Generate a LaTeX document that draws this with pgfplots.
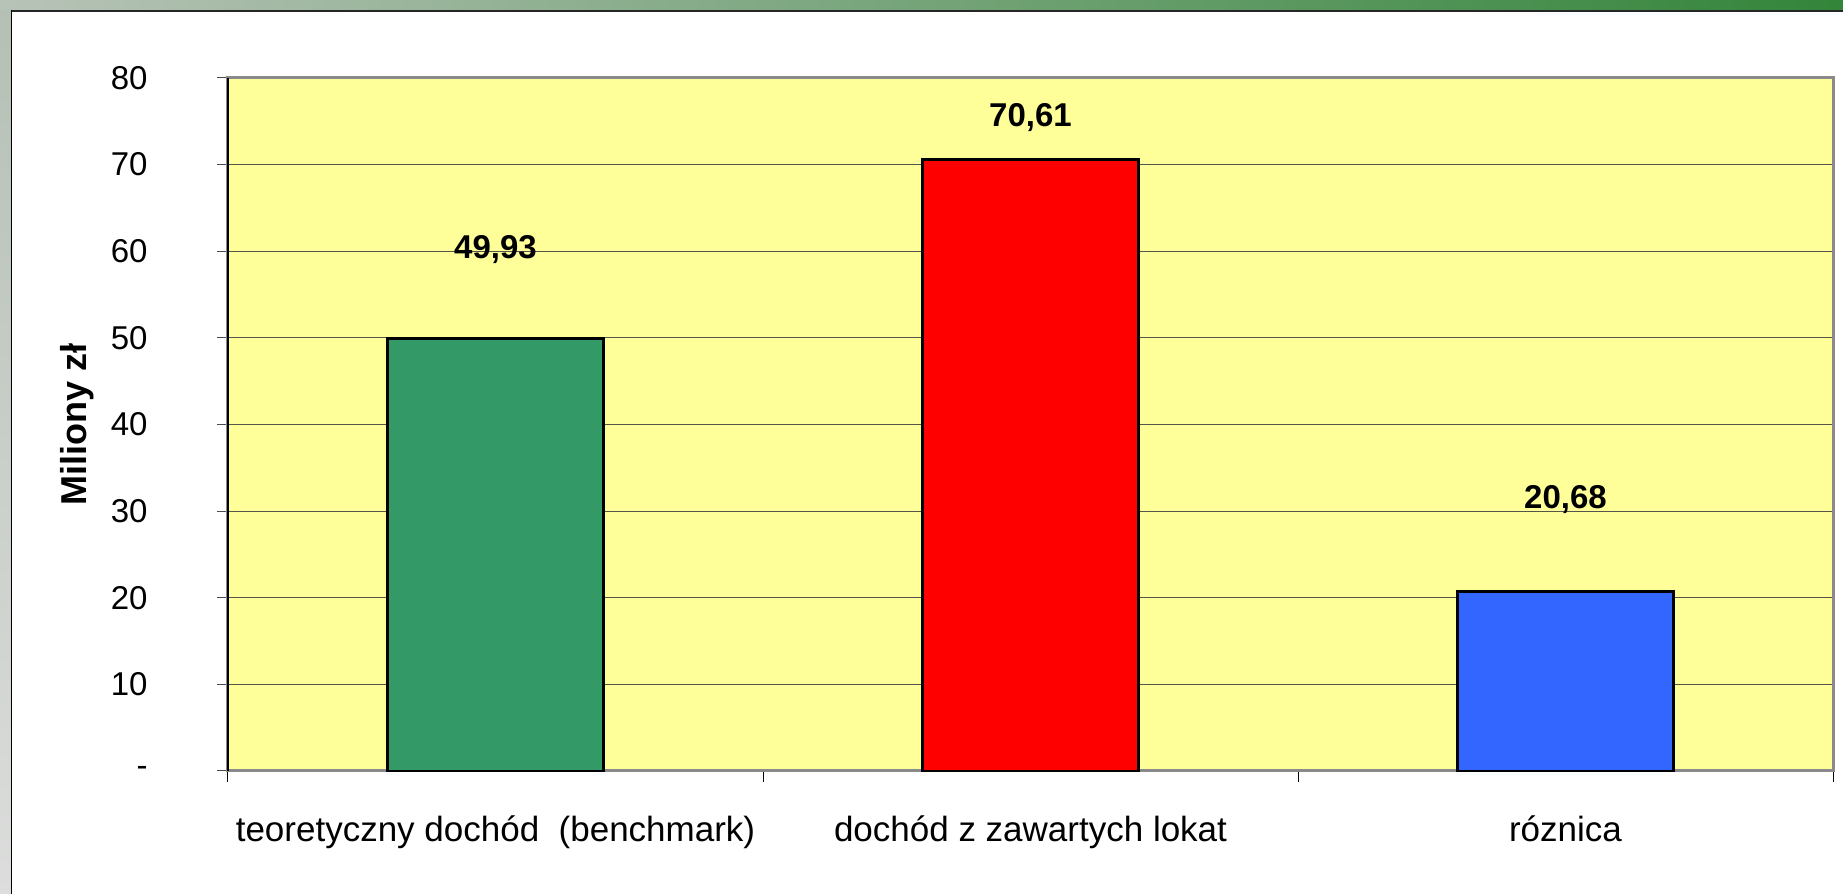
\documentclass[border=0pt]{standalone}
\usepackage{pgfplots}
\pgfplotsset{compat=1.18}
\usepackage{fontspec}
\setmainfont{Liberation Sans}
\definecolor{plotbg}{HTML}{FFFF99}
\definecolor{gridgray}{HTML}{55554A}
\definecolor{framegray}{HTML}{8A8A8A}
\definecolor{barGreen}{HTML}{339966}
\definecolor{barRed}{HTML}{FF0000}
\definecolor{barBlue}{HTML}{3366FF}
\definecolor{stripL}{HTML}{B8C3B8}
\definecolor{stripR}{HTML}{33853A}
\definecolor{sideTop}{HTML}{B4C0B4}
\definecolor{sideBot}{HTML}{DCDDDC}
\begin{document}
\begin{tikzpicture}
\useasboundingbox (0,0) rectangle (921.5pt,447pt);
\fill[white] (0,0) rectangle (921.5pt,447pt);
\shade[top color=sideTop, bottom color=sideBot] (0,0) rectangle (5.5pt,447pt);
\shade[left color=stripL, right color=stripR] (0,442pt) rectangle (921.5pt,447pt);
\fill[black!85] (5.5pt,441pt) rectangle (921.5pt,442pt);
\fill[black] (5.5pt,0) rectangle (6.2pt,442pt);
\begin{axis}[
  at={(114pt,61.5pt)}, anchor=south west,
  scale only axis, width=802.5pt, height=346.5pt,
  xmin=-0.5, xmax=2.5, ymin=0, ymax=80,
  axis background/.style={fill=plotbg},
  axis line style={draw=framegray, line width=1.5pt},
  tick align=outside,
  xtick pos=lower, ytick pos=left,
  major tick length=5.5pt,
  ytick={0,10,...,80},
  yticklabels={-,10,20,30,40,50,60,70,80},
  ytick style={draw=black!70, line width=0.5pt},
  yticklabel style={anchor=east, inner sep=0pt, xshift=-34.5pt, font=\fontsize{16.5}{19}\selectfont},
  ymajorgrids,
  grid style={line width=0.6pt, color=gridgray},
  xtick={-0.5,0.5,1.5,2.5},
  xticklabels={,,,},
  xtick style={draw=black, line width=0.5pt},
  extra x ticks={0,1,2},
  extra x tick labels={teoretyczny dochód\ \ (benchmark), dochód z zawartych lokat, róznica},
  extra x tick style={major tick length=0pt, grid=none},
  xticklabel style={anchor=base, inner sep=0pt, yshift=-35.5pt, font=\fontsize{17.5}{21}\selectfont},
  ylabel={Miliony zł},
  ylabel style={at={(axis description cs:-0.094,0.5)}, anchor=center, font=\bfseries\fontsize{18}{21}\selectfont},
  clip=false,
]
\addplot[ybar, bar width=108pt, bar shift=0pt, fill=barGreen, draw=black, line width=1.4pt] coordinates {(0,49.93)};
\addplot[ybar, bar width=108pt, bar shift=0pt, fill=barRed, draw=black, line width=1.4pt] coordinates {(1,70.61)};
\addplot[ybar, bar width=108pt, bar shift=0pt, fill=barBlue, draw=black, line width=1.4pt] coordinates {(2,20.68)};
\addplot[draw=none, mark=none, nodes near coords, point meta=explicit symbolic,
  every node near coord/.style={anchor=center, inner sep=0pt, text=black, font=\bfseries\fontsize{16.5}{19}\selectfont}]
  table[meta=lab] {
x y lab
0 60.2 49,93
1 75.4 70,61
2 31.3 20,68
};
\draw[black, line width=0.6pt] (rel axis cs:0,0) -- (rel axis cs:0,1);
\end{axis}
\end{tikzpicture}
\end{document}
